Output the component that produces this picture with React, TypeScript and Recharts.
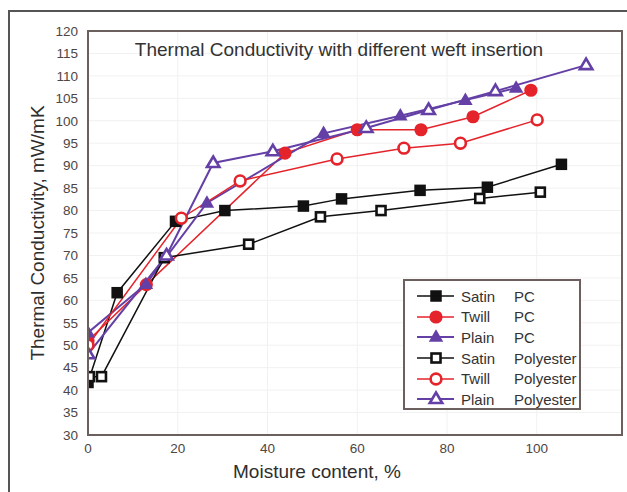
import { LineChart, Line, XAxis, YAxis, CartesianGrid, Legend, Label } from 'recharts';

// values
const satinPcX = [0, 6.5, 19.5, 30.5, 48, 56.5, 74, 89, 105.5];
const satinPcY = [41.7, 61.7, 77.6, 80, 81, 82.6, 84.5, 85.2, 90.3];
const twillPcX = [0, 13, 43.9, 60, 74.2, 85.8, 98.7];
const twillPcY = [51, 63.5, 92.8, 98, 98, 100.9, 106.8];
const plainPcX = [0, 12.9, 26.5, 52.5, 69.6, 84.1, 95.4];
const plainPcY = [52.8, 63.6, 81.7, 97.2, 101.1, 104.6, 107.3];
const satinPolyX = [0.3, 3, 17, 35.8, 51.8, 65.3, 87.3, 100.8];
const satinPolyY = [43, 43, 69.5, 72.5, 78.6, 80, 82.7, 84.1];
const twillPolyX = [0, 20.8, 33.9, 55.5, 70.4, 83, 100.1];
const twillPolyY = [50, 78.3, 86.6, 91.5, 93.9, 95, 100.2];
const plainPolyX = [0, 17.5, 27.9, 41.2, 62, 75.9, 90.8, 111];
const plainPolyY = [48, 70, 90.6, 93.2, 98.4, 102.4, 106.6, 112.4];

const xTicks = [0, 20, 40, 60, 80, 100];
const yTicks = [30, 35, 40, 45, 50, 55, 60, 65, 70, 75, 80, 85, 90, 95, 100, 105, 110, 115, 120];

const BLACK = '#111111';
const RED = '#e4232b';
const PURPLE = '#6440a6';

type Shape = 'square' | 'circle' | 'triangle';

const toPoints = (xs: number[], ys: number[]) => xs.map((x, i) => ({ x, y: ys[i] }));

const series = [
  { id: 'satinPc', weave: 'Satin', yarn: 'PC', color: BLACK, shape: 'square' as Shape, hollow: false, width: 1.5, data: toPoints(satinPcX, satinPcY) },
  { id: 'twillPc', weave: 'Twill', yarn: 'PC', color: RED, shape: 'circle' as Shape, hollow: false, width: 1.5, data: toPoints(twillPcX, twillPcY) },
  { id: 'plainPc', weave: 'Plain', yarn: 'PC', color: PURPLE, shape: 'triangle' as Shape, hollow: false, width: 2, data: toPoints(plainPcX, plainPcY) },
  { id: 'satinPoly', weave: 'Satin', yarn: 'Polyester', color: BLACK, shape: 'square' as Shape, hollow: true, width: 1.5, data: toPoints(satinPolyX, satinPolyY) },
  { id: 'twillPoly', weave: 'Twill', yarn: 'Polyester', color: RED, shape: 'circle' as Shape, hollow: true, width: 1.5, data: toPoints(twillPolyX, twillPolyY) },
  { id: 'plainPoly', weave: 'Plain', yarn: 'Polyester', color: PURPLE, shape: 'triangle' as Shape, hollow: true, width: 2, data: toPoints(plainPolyX, plainPolyY) },
];

const FONT = '"Liberation Sans", Arial, Helvetica, sans-serif';

function Marker({ cx, cy, shape, color, hollow }: { cx: number; cy: number; shape: Shape; color: string; hollow: boolean }) {
  const fill = hollow ? '#ffffff' : color;
  const sw = hollow ? 2.6 : 0;
  if (shape === 'square') {
    const s = hollow ? 9 : 11.5;
    return <rect x={cx - s / 2} y={cy - s / 2} width={s} height={s} fill={fill} stroke={color} strokeWidth={sw} />;
  }
  if (shape === 'circle') {
    return <circle cx={cx} cy={cy} r={hollow ? 5.4 : 6.6} fill={fill} stroke={color} strokeWidth={sw} />;
  }
  const h = hollow ? 10.5 : 12.5;
  const w = hollow ? 12.5 : 14.5;
  const pts = `${cx},${cy - h * 0.62} ${cx + w / 2},${cy + h * 0.38} ${cx - w / 2},${cy + h * 0.38}`;
  return <polygon points={pts} fill={fill} stroke={color} strokeWidth={sw} strokeLinejoin="miter" />;
}

function LegendBox() {
  return (
    <div
      style={{
        boxSizing: 'border-box',
        width: 178,
        height: 131,
        border: '2px solid #6b605d',
        background: '#ffffff',
        padding: '5px 0 0 0',
        fontFamily: FONT,
        fontSize: 15,
        color: '#333',
      }}
    >
      {series.map((s) => (
        <div key={s.id} style={{ display: 'flex', alignItems: 'center', height: 20.6 }}>
          <svg width={40} height={18} style={{ marginLeft: 11 }}>
            <line x1={1} y1={9} x2={38} y2={9} stroke={s.color} strokeWidth={s.width} />
            <Marker cx={20} cy={9} shape={s.shape} color={s.color} hollow={s.hollow} />
          </svg>
          <span style={{ marginLeft: 5, width: 53 }}>{s.weave}</span>
          <span>{s.yarn}</span>
        </div>
      ))}
    </div>
  );
}

export default function App() {
  return (
    <div style={{ position: 'absolute', left: 0, top: 0, width: 627, height: 492, overflow: 'hidden', background: '#fff' }}>
      <div
        style={{
          position: 'absolute',
          left: 8,
          top: 10,
          width: 700,
          height: 600,
          borderLeft: '2px solid #555',
          borderTop: '2px solid #555',
        }}
      />
      <div style={{ position: 'absolute', left: 0, top: 0 }}>
        <LineChart width={627} height={492} margin={{ top: 31, right: 5, left: 0, bottom: 0 }}>
          <CartesianGrid stroke="#f1f1f1" strokeWidth={1} />
          <XAxis
            dataKey="x"
            type="number"
            domain={[0, 119]}
            ticks={xTicks}
            height={57}
            axisLine={false}
            tickLine={false}
            tickSize={6}
            tickMargin={2}
            tick={{ fontSize: 13.5, fill: '#4d4644', fontFamily: FONT }}
            allowDataOverflow
          >
            <Label
              content={() => (
                <text x={317} y={478} textAnchor="middle" fontSize={19} fill="#2e2e2e" fontFamily={FONT}>
                  Moisture content, %
                </text>
              )}
            />
          </XAxis>
          <YAxis
            type="number"
            domain={[30, 120]}
            ticks={yTicks}
            width={88}
            axisLine={false}
            tickLine={false}
            tickSize={8}
            tickMargin={2}
            tick={{ fontSize: 13.5, fill: '#4d4644', fontFamily: FONT }}
            interval={0}
          >
            <Label
              content={() => (
                <text
                  x={44}
                  y={233}
                  transform="rotate(-90 44 233)"
                  textAnchor="middle"
                  fontSize={19}
                  fill="#2e2e2e"
                  fontFamily={FONT}
                >
                  Thermal Conductivity, mW/mK
                </text>
              )}
            />
          </YAxis>
          {series.map((s) => (
            <Line
              key={s.id}
              data={s.data}
              dataKey="y"
              name={`${s.weave} ${s.yarn}`}
              type="linear"
              stroke={s.color}
              strokeWidth={s.width}
              isAnimationActive={false}
              dot={(p: any) => (
                <Marker key={`${s.id}-${p.index}`} cx={p.cx} cy={p.cy} shape={s.shape} color={s.color} hollow={s.hollow} />
              )}
              activeDot={false}
            />
          ))}
          <Legend
            layout="vertical"
            align="center"
            verticalAlign="middle"
            content={() => <LegendBox />}
            wrapperStyle={{ left: 403, top: 279, width: 178, height: 131 }}
          />
        </LineChart>
      </div>
      <div
        style={{
          position: 'absolute',
          left: 87,
          top: 30,
          width: 536,
          height: 406,
          boxSizing: 'border-box',
          border: '2px solid #6b605d',
          pointerEvents: 'none',
        }}
      />
      <div
        style={{
          position: 'absolute',
          left: 88,
          top: 39,
          width: 502,
          textAlign: 'center',
          fontFamily: FONT,
          fontSize: 19,
          color: '#333',
          pointerEvents: 'none',
        }}
      >
        Thermal Conductivity with different weft insertion
      </div>
    </div>
  );
}
